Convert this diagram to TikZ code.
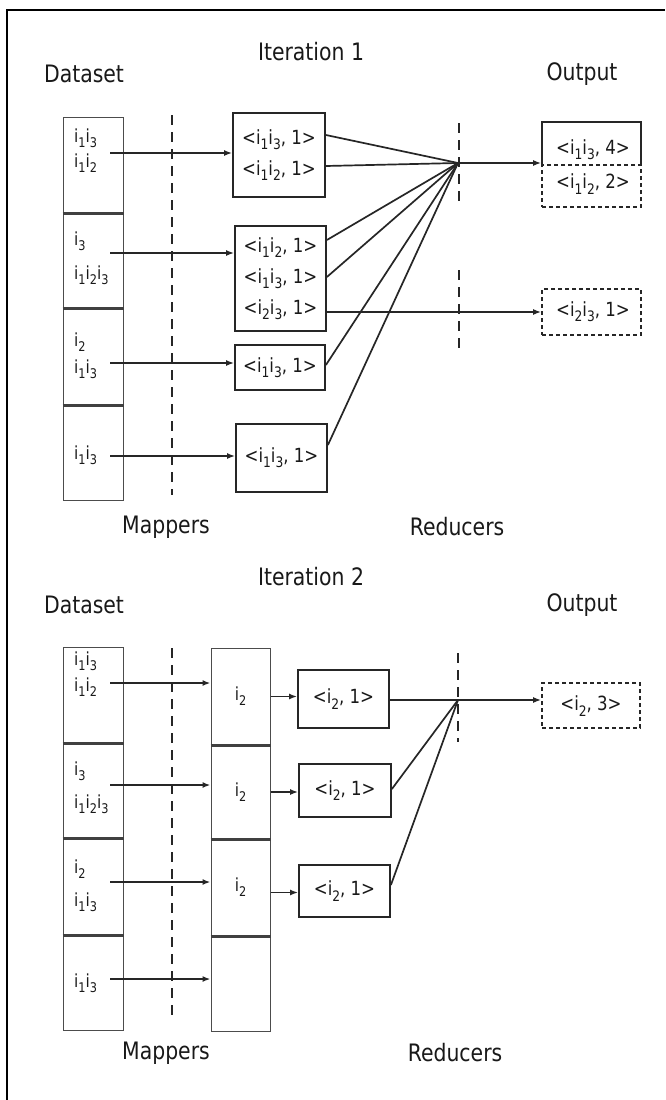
\documentclass[tikz,border=0pt]{standalone}
\usepackage{fontspec}
\usepackage{graphicx}
\setmainfont{DejaVu Sans}[FakeStretch=0.85]
\usetikzlibrary{arrows.meta}
\newcommand\sbx[1]{\raisebox{-0.5ex}{\scalebox{0.74}{#1}}}
\newcommand\ia[1]{i\sbx{#1}}
\begin{document}
\begin{tikzpicture}[x=1pt,y=-1pt,
  every node/.style={text=black!90},
  lbl/.style={font=\fontsize{24}{28}\selectfont, inner sep=0},
  cell/.style={draw=black!70, line width=1pt, minimum width=60pt, inner sep=0, font=\fontsize{18}{20}\selectfont},
  divl/.style={draw=black!75, line width=2.4pt},
  ctext/.style={font=\fontsize{18}{20}\selectfont, anchor=west, inner sep=0},
  mbox/.style={draw=black!85, line width=1.8pt, align=center, inner sep=0, font=\fontsize{19.5}{31}\selectfont},
  otext/.style={font=\fontsize{19.5}{22}\selectfont, inner sep=0},
  odash/.style={draw=black!85, line width=1.7pt, dash pattern=on 4pt off 3pt},
  conn/.style={draw=black!85, line width=1.7pt},
  arr/.style={conn, -{Latex[length=8pt,width=6pt]}},
  dsh/.style={draw=black!85, line width=1.5pt, dash pattern=on 10pt off 7pt}
]
\useasboundingbox (0,0) rectangle (665,1100);
\fill[white] (0,0) rectangle (665,1100);
\draw[line width=2.5pt] (7,1100) -- (7,10) -- (665,10);

% ================= Iteration 1 =================
\node[lbl] (title1) at (311,52) {Iteration 1};
\node[lbl] (dslbl1) at (84,74) {Dataset};
\node[lbl] (outlbl1) at (582,74) {Output};
\node[lbl] (maplbl1) at (166,527) {Mappers};
\node[lbl] (redlbl1) at (457,527) {Reducers};

% dataset cells
\node[cell, minimum height=96pt] (d11) at (93,165) {};
\node[cell, minimum height=95pt] (d12) at (93,260.5) {};
\node[cell, minimum height=97pt] (d13) at (93,356.5) {};
\node[cell, minimum height=95pt] (d14) at (93,452.5) {};
\draw[divl] (d11.south west) -- (d11.south east);
\draw[divl] (d12.south west) -- (d12.south east);
\draw[divl] (d13.south west) -- (d13.south east);

\node[ctext] (t11a) at (74,138) {\ia1\ia3};
\node[ctext] (t11b) at (74,163) {\ia1\ia2};
\node[ctext] (t12a) at (74,241) {\ia3};
\node[ctext] (t12b) at (74,275) {\ia1\ia2\ia3};
\node[ctext] (t13a) at (74,342) {\ia2};
\node[ctext] (t13b) at (74,369) {\ia1\ia3};
\node[ctext] (t14a) at (74,455) {\ia1\ia3};

% mapper outputs
\node[mbox, minimum width=92pt, minimum height=84pt] (m1A) at (279,155)
  {<\ia1\ia3, 1>\\<\ia1\ia2, 1>};
\node[mbox, minimum width=91pt, minimum height=105pt] (m1B) at (280.5,278.5)
  {<\ia1\ia2, 1>\\<\ia1\ia3, 1>\\<\ia2\ia3, 1>};
\node[mbox, minimum width=90pt, minimum height=45pt] (m1C) at (280,367.5)
  {<\ia1\ia3, 1>};
\node[mbox, minimum width=91pt, minimum height=68pt] (m1D) at (281.5,458)
  {<\ia1\ia3, 1>};

% arrows dataset -> mappers
\coordinate (a11) at (110,153);
\coordinate (a12) at (110,253);
\coordinate (a13) at (110,363);
\coordinate (a14) at (110,456);
\draw[arr] (a11) -- (a11 -| m1A.west);
\draw[arr] (a12) -- (a12 -| m1B.west);
\draw[arr] (a13) -- (a13 -| m1C.west);
\draw[arr] (a14) -- (a14 -| m1D.west);

% mapper dashed line
\draw[dsh] (172,115) -- (172,495);

% reducer
\coordinate (r1) at (458,163);
\draw[dsh] (459,123) -- (459,203);
\draw[dsh] (459,270) -- (459,352);

\draw[conn] ([yshift=20pt]m1A.east) -- (r1);
\draw[conn] ([yshift=-11pt]m1A.east) -- (r1);
\draw[conn] ([yshift=38.5pt]m1B.east) -- (r1);
\draw[conn] ([yshift=1.5pt]m1B.east) -- (r1);
\draw[conn] ([yshift=2.5pt]m1C.east) -- (r1);
\draw[conn] ([yshift=13pt]m1D.east) -- (r1);

% outputs
\node[minimum width=99pt, minimum height=43pt, inner sep=0] (o1a) at (591.5,143.5) {};
\draw[draw=black!85, line width=1.8pt] (o1a.south west) -- (o1a.north west) -- (o1a.north east) -- (o1a.south east);
\node[odash, minimum width=99pt, minimum height=42pt, inner sep=0] (o1b) at (591.5,186) {};
\node[odash, minimum width=99pt, minimum height=46pt, inner sep=0] (o1c) at (591.5,312) {};
\node[otext] (o1at) at (593,150) {<\ia1\ia3, 4>};
\node[otext] (o1bt) at (593,184) {<\ia1\ia2, 2>};
\node[otext] (o1ct) at (593,312) {<\ia2\ia3, 1>};

\draw[arr] (r1) -- (r1 -| o1b.west);
\draw[arr] ([yshift=-33.5pt]m1B.east) -- (o1c.west);

% ================= Iteration 2 =================
\node[lbl] (title2) at (311,577) {Iteration 2};
\node[lbl] (dslbl2) at (84,605) {Dataset};
\node[lbl] (outlbl2) at (582,605) {Output};
\node[lbl] (maplbl2) at (166,1053) {Mappers};
\node[lbl] (redlbl2) at (455,1053) {Reducers};

\node[cell, minimum height=96pt] (d21) at (93,695) {};
\node[cell, minimum height=95pt] (d22) at (93,790.5) {};
\node[cell, minimum height=97pt] (d23) at (93,886.5) {};
\node[cell, minimum height=95pt] (d24) at (93,982.5) {};
\draw[divl] (d21.south west) -- (d21.south east);
\draw[divl] (d22.south west) -- (d22.south east);
\draw[divl] (d23.south west) -- (d23.south east);

\node[ctext] (t21a) at (74,661) {\ia1\ia3};
\node[ctext] (t21b) at (74,687) {\ia1\ia2};
\node[ctext] (t22a) at (74,771) {\ia3};
\node[ctext] (t22b) at (74,804) {\ia1\ia2\ia3};
\node[ctext] (t23a) at (74,869) {\ia2};
\node[ctext] (t23b) at (74,902) {\ia1\ia3};
\node[ctext] (t24a) at (74,983) {\ia1\ia3};

% mapper cells
\node[cell, minimum width=59pt, minimum height=97pt] (c21) at (240.5,696.5) {\ia2};
\node[cell, minimum width=59pt, minimum height=94pt] (c22) at (240.5,792) {\ia2};
\node[cell, minimum width=59pt, minimum height=97pt] (c23) at (240.5,887.5) {\ia2};
\node[cell, minimum width=59pt, minimum height=95pt] (c24) at (240.5,983.5) {};
\draw[divl] (c21.south west) -- (c21.south east);
\draw[divl] (c22.south west) -- (c22.south east);
\draw[divl] (c23.south west) -- (c23.south east);

\coordinate (a21) at (110,683);
\coordinate (a22) at (110,785);
\coordinate (a23) at (110,882);
\coordinate (a24) at (110,979);
\draw[arr] (a21) -- (a21 -| c21.west);
\draw[arr] (a22) -- (a22 -| c22.west);
\draw[arr] (a23) -- (a23 -| c23.west);
\draw[arr] (a24) -- (a24 -| c24.west);

\draw[dsh] (172,648) -- (172,1022);

% combiner boxes
\node[mbox, minimum width=91pt, minimum height=58pt] (rb1) at (343.5,699) {<\ia2, 1>};
\node[mbox, minimum width=92pt, minimum height=53pt] (rb2) at (345,790.5) {<\ia2, 1>};
\node[mbox, minimum width=91pt, minimum height=52pt] (rb3) at (344.5,891) {<\ia2, 1>};

\draw[arr] (c21.east) -- (c21.east -| rb1.west);
\draw[arr] (c22.east) -- (c22.east -| rb2.west);
\draw[arr] ([yshift=-5pt]c23.east) -- ([yshift=-5pt]c23.east -| rb3.west);

\coordinate (r2) at (458,700);
\draw[dsh] (458,653) -- (458,742);
\draw[conn] ([yshift=-1pt]rb1.east) -- (r2);
\draw[conn] ([yshift=1.5pt]rb2.east) -- (r2);
\draw[conn] ([yshift=6pt]rb3.east) -- (r2);

\node[odash, minimum width=98pt, minimum height=45pt, inner sep=0] (o2) at (591,705.5) {};
\node[otext] (o2t) at (591,706) {<\ia2, 3>};
\draw[arr] (r2) -- (r2 -| o2.west);
\end{tikzpicture}
\end{document}
